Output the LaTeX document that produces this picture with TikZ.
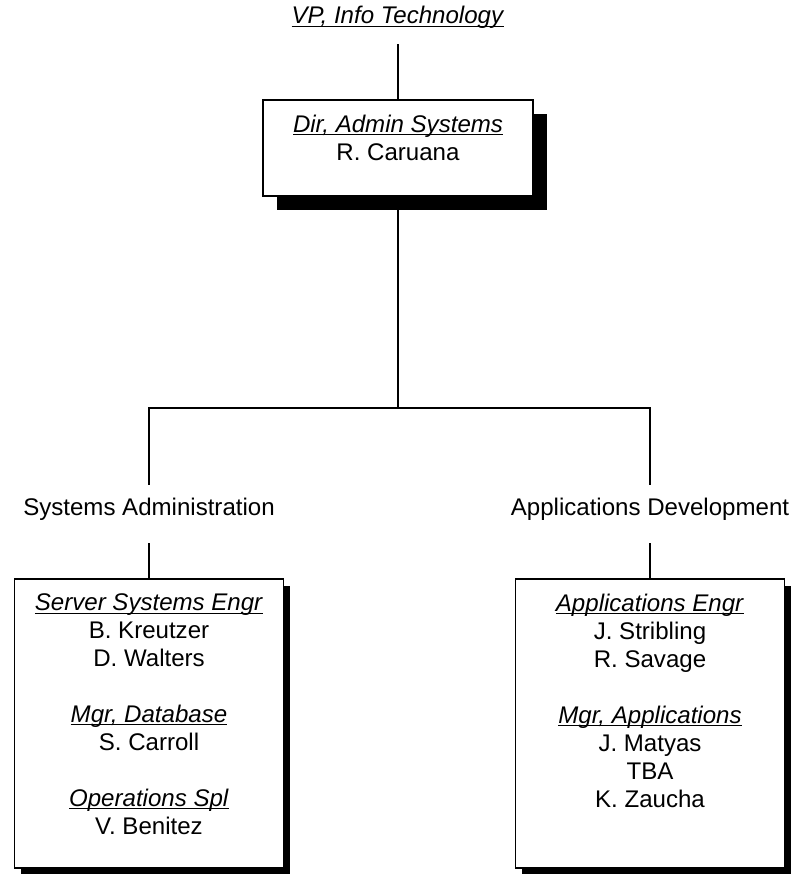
\documentclass[tikz,border=0pt]{standalone}
\usepackage{fontspec}
\setmainfont{Liberation Sans}
\usepackage{tikz}
\usetikzlibrary{shadows}
\newsavebox{\rolebox}
\newcommand{\roletitle}[1]{\leavevmode\sbox{\rolebox}{\textit{#1}}\rlap{\rule[-1.6pt]{\wd\rolebox}{0.6pt}}\usebox{\rolebox}}
\newcommand{\chartfont}{\fontsize{13.7}{15.9}\selectfont}

\begin{document}
\begin{tikzpicture}[
			x=0.02cm, y=-0.02cm,
			font=\chartfont,
			line/.style={draw=black, line width=0.8pt},
			topbox/.style={draw=black, line width=0.9pt, fill=white, rectangle, inner sep=0pt, minimum width=5.4cm, minimum height=1.92cm,
				drop shadow={shadow xshift=0.28cm, shadow yshift=-0.28cm, fill=black, opacity=1}},
			unitbox/.style={draw=black, line width=0.9pt, fill=white, rectangle, inner sep=0pt, minimum width=5.38cm, minimum height=5.78cm,
				drop shadow={shadow xshift=0.13cm, shadow yshift=-0.13cm, fill=black, opacity=1}},
			unitlabel/.style={inner sep=0pt, anchor=base, text height=0.6cm, text depth=0.56cm}
			]
			\useasboundingbox (0,0) rectangle (795,875);
			
			% Vertice
			\node[inner sep=0pt, anchor=base, text depth=0.4cm] (vp) at (398,24) {\roletitle{VP, Info Technology}};
			\node[topbox] (dir) at (398,148) {\parbox[c][1.92cm][t]{5cm}{\vspace*{0.3cm}\centering
				\roletitle{Dir, Admin Systems}\\
				R. Caruana}};
			\draw[line] (vp) -- (dir);
			
			% Diramazione
			\coordinate (split) at (398,408);
			\draw[line] (dir) -- (split);
			\node[unitlabel] (sysadm) at (149,515) {Systems Administration};
			\node[unitlabel] (appdev) at (650,515) {Applications Development};
			\draw[line] (split) -| (sysadm.north);
			\draw[line] (split) -| (appdev.north);
			
			% Systems Administration
			\node[unitbox] (sysbox) at (149,723.5) {\parbox[c][5.78cm][t]{5.2cm}{\vspace*{0.3cm}\centering
				\roletitle{Server Systems Engr}\\
				B. Kreutzer\\
				D. Walters\\[0.56cm]
				\roletitle{Mgr, Database}\\
				S. Carroll\\[0.56cm]
				\roletitle{Operations Spl}\\
				V. Benitez}};
			\draw[line] (sysadm.south) -- (sysbox.north);
			
			% Applications Development
			\node[unitbox] (appbox) at (650,723.5) {\parbox[c][5.78cm][t]{5.2cm}{\vspace*{0.3cm}\centering
				\roletitle{Applications Engr}\\
				J. Stribling\\
				R. Savage\\[0.56cm]
				\roletitle{Mgr, Applications}\\
				J. Matyas\\
				TBA\\
				K. Zaucha}};
			\draw[line] (appdev.south) -- (appbox.north);
			
		\end{tikzpicture}
\end{document}
